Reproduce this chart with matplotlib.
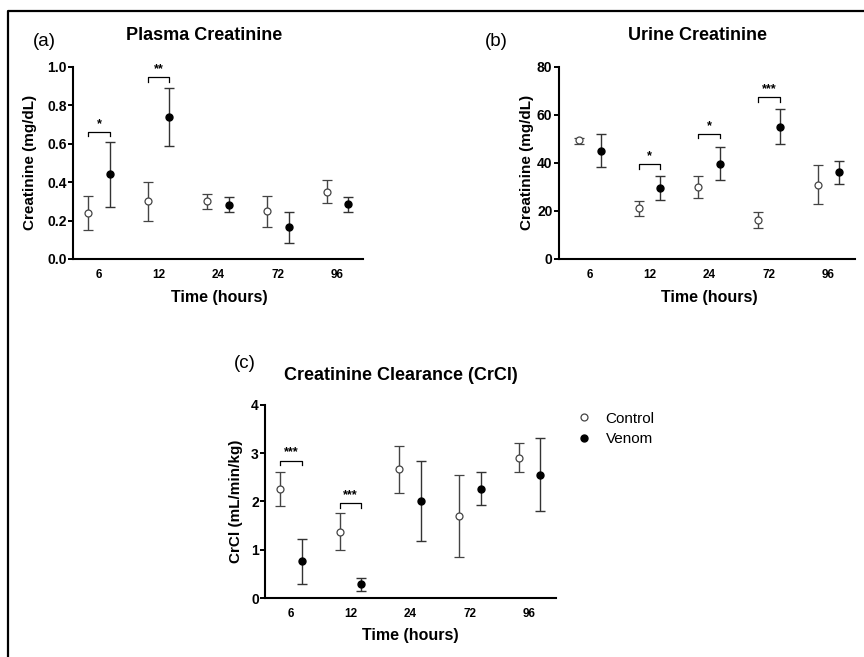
import matplotlib
matplotlib.use("Agg")
import matplotlib.pyplot as plt
from matplotlib.lines import Line2D
import numpy as np

plt.rcParams['font.family'] = ['Liberation Sans', 'DejaVu Sans']

# time points (hours)
time_labels = ['6', '12', '24', '72', '96']

# Plasma creatinine (mg/dL): mean, lower and upper error limits
plasma_ctrl = [0.24, 0.30, 0.30, 0.25, 0.35]
plasma_ctrl_lo = [0.15, 0.20, 0.26, 0.165, 0.29]
plasma_ctrl_hi = [0.33, 0.40, 0.34, 0.33, 0.41]
plasma_ven = [0.44, 0.74, 0.283, 0.165, 0.285]
plasma_ven_lo = [0.27, 0.59, 0.243, 0.083, 0.247]
plasma_ven_hi = [0.61, 0.89, 0.323, 0.247, 0.323]

# Urine creatinine (mg/dL)
urine_ctrl = [49.3, 21.1, 30.0, 16.3, 30.8]
urine_ctrl_lo = [47.8, 17.8, 25.3, 12.9, 22.8]
urine_ctrl_hi = [50.5, 24.3, 34.7, 19.4, 39.0]
urine_ven = [45.1, 29.6, 39.6, 55.1, 36.1]
urine_ven_lo = [38.2, 24.6, 32.9, 47.8, 31.4]
urine_ven_hi = [52.0, 34.6, 46.5, 62.5, 40.6]

# Creatinine clearance (mL/min/kg)
crcl_ctrl = [2.25, 1.37, 2.66, 1.69, 2.90]
crcl_ctrl_lo = [1.91, 1.00, 2.17, 0.85, 2.61]
crcl_ctrl_hi = [2.60, 1.75, 3.15, 2.54, 3.20]
crcl_ven = [0.77, 0.28, 2.00, 2.26, 2.55]
crcl_ven_lo = [0.30, 0.15, 1.18, 1.92, 1.79]
crcl_ven_hi = [1.23, 0.41, 2.83, 2.60, 3.32]

# significance brackets: (time index, bracket level, stars)
plasma_sig = [(0, 0.66, '*'), (1, 0.944, '**')]
urine_sig = [(1, 39.4, '*'), (2, 52.0, '*'), (3, 67.2, '***')]
crcl_sig = [(0, 2.84, '***'), (1, 1.96, '***')]

W, H = 864, 657
fig = plt.figure(figsize=(W / 100, H / 100), dpi=100)


def px_axes(left, top, right, bottom):
    return fig.add_axes([left / W, 1 - bottom / H, (right - left) / W, (bottom - top) / H])


def draw_panel(ax, ctrl, clo, chi, ven, vlo, vhi, sig, ylim, yticks, yfmt,
               xlim, ylabel, off=0.18):
    x = np.arange(len(time_labels))
    ctrl, clo, chi = map(np.array, (ctrl, clo, chi))
    ven, vlo, vhi = map(np.array, (ven, vlo, vhi))
    ax.errorbar(x - off, ctrl, yerr=[ctrl - clo, chi - ctrl], fmt='o',
                mfc='white', mec='#444444', mew=0.9, ms=5,
                ecolor='#444444', elinewidth=1, capsize=3.5, capthick=1)
    ax.errorbar(x + off, ven, yerr=[ven - vlo, vhi - ven], fmt='o',
                mfc='black', mec='black', ms=5,
                ecolor='#333333', elinewidth=1, capsize=3.5, capthick=1)
    drop = 0.022 * (ylim[1] - ylim[0])
    for i, lvl, stars in sig:
        ax.plot([i - off, i - off, i + off, i + off],
                [lvl - drop, lvl, lvl, lvl - drop], color='black', lw=0.9,
                clip_on=False)
        ax.text(i, lvl + 0.5 * drop, stars, ha='center', va='bottom',
                fontsize=9, fontweight='bold')
    ax.set_xlim(*xlim)
    ax.set_ylim(*ylim)
    ax.set_xticks(x)
    ax.set_xticklabels(time_labels, fontsize=8.5, fontweight='bold')
    ax.set_yticks(yticks)
    ax.set_yticklabels([yfmt.format(v) for v in yticks], fontsize=10,
                       fontweight='bold')
    ax.tick_params(axis='x', length=0, pad=7)
    ax.tick_params(axis='y', length=3.5, width=1.4, pad=1)
    for s in ('top', 'right'):
        ax.spines[s].set_visible(False)
    for s in ('left', 'bottom'):
        ax.spines[s].set_linewidth(1.5)
    ax.set_ylabel(ylabel, fontsize=11, fontweight='bold')
    ax.set_xlabel('Time (hours)', fontsize=11.5, fontweight='bold')


# (a) plasma creatinine
ax_a = px_axes(73, 66.7, 363, 259)
draw_panel(ax_a, plasma_ctrl, plasma_ctrl_lo, plasma_ctrl_hi,
           plasma_ven, plasma_ven_lo, plasma_ven_hi, plasma_sig,
           (0, 1.0), np.arange(0, 1.01, 0.2), '{:.1f}', (-0.436, 4.43),
           'Creatinine (mg/dL)')
ax_a.yaxis.set_label_coords(-0.125, 0.5)
ax_a.xaxis.set_label_coords(0.503, -0.16)

# (b) urine creatinine
ax_b = px_axes(558.7, 66.7, 854.7, 259)
draw_panel(ax_b, urine_ctrl, urine_ctrl_lo, urine_ctrl_hi,
           urine_ven, urine_ven_lo, urine_ven_hi, urine_sig,
           (0, 80), np.arange(0, 81, 20), '{:.0f}', (-0.523, 4.44),
           'Creatinine (mg/dL)')
ax_b.yaxis.set_label_coords(-0.085, 0.5)
ax_b.xaxis.set_label_coords(0.51, -0.16)

# (c) creatinine clearance
ax_c = px_axes(265, 404.7, 556, 598)
draw_panel(ax_c, crcl_ctrl, crcl_ctrl_lo, crcl_ctrl_hi,
           crcl_ven, crcl_ven_lo, crcl_ven_hi, crcl_sig,
           (0, 4), np.arange(0, 5, 1), '{:.0f}', (-0.434, 4.444),
           'CrCl (mL/min/kg)')
ax_c.yaxis.set_label_coords(-0.075, 0.5)
ax_c.xaxis.set_label_coords(0.50, -0.155)

# titles and panel letters
fig.text(204 / W, 1 - 36 / H, 'Plasma Creatinine', ha='center', va='center',
         fontsize=13, fontweight='bold')
fig.text(697 / W, 1 - 36 / H, 'Urine Creatinine', ha='center', va='center',
         fontsize=13, fontweight='bold')
fig.text(401 / W, 1 - 375 / H, 'Creatinine Clearance (CrCl)', ha='center',
         va='center', fontsize=13, fontweight='bold')
fig.text(44 / W, 1 - 41 / H, '(a)', ha='center', va='center', fontsize=13.5)
fig.text(496 / W, 1 - 41 / H, '(b)', ha='center', va='center', fontsize=13.5)
fig.text(245 / W, 1 - 364 / H, '(c)', ha='center', va='center', fontsize=13.5)

# legend
handles = [Line2D([], [], ls='none', marker='o', ms=5, mfc='white', mec='#444444', mew=0.9),
           Line2D([], [], ls='none', marker='o', ms=5, mfc='black', mec='black')]
fig.legend(handles, ['Control', 'Venom'], loc='center left',
           bbox_to_anchor=(569 / W, 1 - 429 / H), frameon=False, fontsize=11,
           handlelength=1, handletextpad=0.9, labelspacing=0.45, borderpad=0)

# outer frame (left and top edges visible)
fig.add_artist(Line2D([7.5 / W, 7.5 / W, 1], [0, 1 - 10.5 / H, 1 - 10.5 / H],
                      transform=fig.transFigure, color='black', lw=1.6))

fig.savefig('out.png', dpi=100)
